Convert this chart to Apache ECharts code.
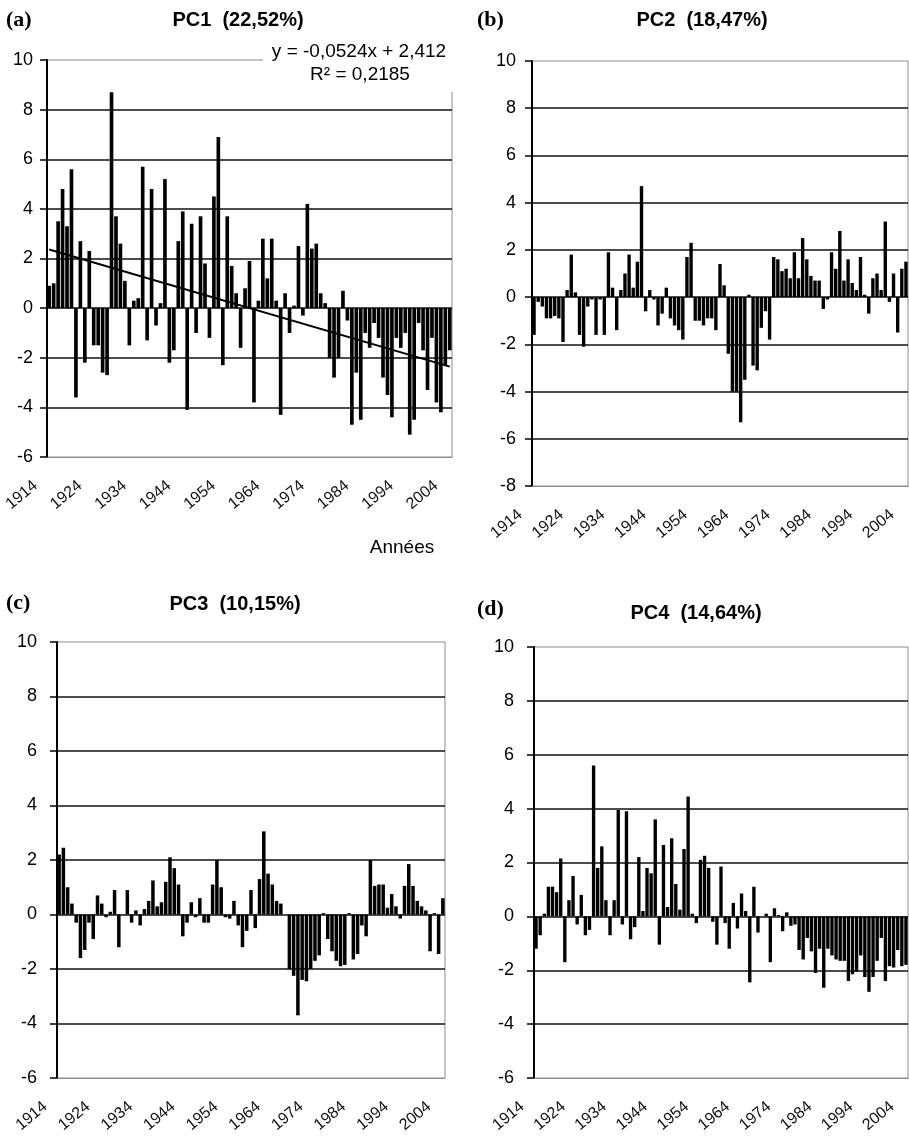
<!DOCTYPE html>
<html><head><meta charset="utf-8">
<script src="https://cdn.jsdelivr.net/npm/echarts@6/dist/echarts.min.js"></script>
<style>html,body{margin:0;padding:0;background:#fff}#c{width:909px;height:1138px}</style>
</head><body><div id="c"></div>
<script>
// ---- data ----
const firstYear = 1914, lastYear = 2004;
const years = [];
for (let y = firstYear; y <= lastYear; y++) years.push(String(y));
const tickYears = ['1914','1924','1934','1944','1954','1964','1974','1984','1994','2004'];

const pc1 = [0.9, 1.0, 3.5, 4.8, 3.3, 5.6, -3.6, 2.7, -2.2, 2.3,
  -1.5, -1.5, -2.6, -2.7, 8.7, 3.7, 2.6, 1.1, -1.5, 0.3,
  0.4, 5.7, -1.3, 4.8, -0.7, 0.2, 5.2, -2.2, -1.7, 2.7,
  3.9, -4.1, 3.4, -1.0, 3.7, 1.8, -1.2, 4.5, 6.9, -2.3,
  3.7, 1.7, 0.6, -1.6, 0.8, 1.9, -3.8, 0.3, 2.8, 1.2,
  2.8, 0.3, -4.3, 0.6, -1.0, 0.1, 2.5, -0.3, 4.2, 2.4,
  2.6, 0.6, 0.2, -2.0, -2.8, -2.0, 0.7, -0.5, -4.7, -2.6,
  -4.5, -1.0, -1.6, -0.6, -1.2, -2.8, -3.5, -4.4, -1.2, -1.6,
  -1.0, -5.1, -4.5, -0.6, -1.7, -3.3, -1.2, -3.8, -4.2, -2.3,
  -1.7];
const pc2 = [-1.6, -0.2, -0.4, -0.9, -0.9, -0.8, -0.9, -1.9, 0.3, 1.8,
  0.2, -1.6, -2.1, -0.4, -0.1, -1.6, -0.1, -1.6, 1.9, 0.4,
  -1.4, 0.3, 1.0, 1.8, 0.4, 1.5, 4.7, -0.6, 0.3, -0.1,
  -1.2, -0.7, 0.4, -0.9, -1.2, -1.4, -1.8, 1.7, 2.3, -1.0,
  -1.0, -1.2, -0.9, -0.9, -1.4, 1.4, 0.5, -2.4, -4.0, -4.0,
  -5.3, -3.5, 0.1, -2.9, -3.1, -1.3, -0.6, -1.8, 1.7, 1.6,
  1.1, 1.2, 0.8, 1.9, 0.8, 2.5, 1.6, 0.9, 0.7, 0.7,
  -0.5, -0.1, 1.9, 1.2, 2.8, 0.7, 1.6, 0.6, 0.3, 1.7,
  0.1, -0.7, 0.8, 1.0, 0.3, 3.2, -0.2, 1.0, -1.5, 1.2,
  1.5];
const pc3 = [2.2, 2.45, 1.0, 0.4, -0.3, -1.6, -1.3, -0.3, -0.9, 0.7,
  0.4, -0.1, 0.1, 0.9, -1.2, 0.0, 0.9, -0.3, 0.15, -0.4,
  0.2, 0.5, 1.25, 0.3, 0.45, 1.2, 2.1, 1.7, 1.1, -0.8,
  -0.3, 0.45, -0.1, 0.6, -0.3, -0.3, 1.1, 2.0, 1.0, -0.1,
  -0.15, 0.5, -0.4, -1.2, -0.6, 0.9, -0.5, 1.3, 3.05, 1.5,
  1.1, 0.5, 0.4, 0.0, -2.0, -2.25, -3.7, -2.4, -2.45, -2.0,
  -1.7, -1.5, 0.05, -0.9, -1.35, -1.7, -1.9, -1.85, 0.05, -1.65,
  -1.45, -0.4, -0.8, 2.0, 1.05, 1.1, 1.1, 0.25, 0.75, 0.3,
  -0.15, 1.05, 1.85, 1.05, 0.5, 0.3, 0.15, -1.35, 0.05, -1.45,
  0.6];
const pc4 = [-1.2, -0.7, 0.1, 1.1, 1.1, 0.9, 2.15, -1.7, 0.6, 1.5,
  -0.3, 0.8, -0.7, -0.5, 5.6, 1.8, 2.6, 0.6, -0.7, 0.6,
  3.95, -0.3, 3.9, -0.85, -0.4, 2.2, 0.2, 1.8, 1.6, 3.6,
  -1.05, 2.65, 0.35, 2.9, 1.2, 0.25, 2.5, 4.45, 0.1, -0.25,
  2.1, 2.25, 1.8, -0.2, -1.05, 1.85, -0.25, -1.2, 0.5, -0.45,
  0.85, 0.2, -2.45, 1.1, -0.6, 0.0, 0.1, -1.7, 0.3, 0.05,
  -0.55, 0.15, -0.35, -0.3, -1.25, -1.6, -0.8, -1.3, -2.1, -1.2,
  -2.65, -1.2, -1.45, -1.6, -1.65, -1.65, -2.4, -2.15, -2.05, -1.45,
  -2.25, -2.8, -2.25, -1.65, -0.8, -2.4, -1.85, -1.9, -1.25, -1.85,
  -1.8];

// regression shown on panel (a): y = -0,0524x + 2,412 (x = 1..n)
const trendSlope = -0.0524, trendIntercept = 2.412;

const titles = ['PC1  (22,52%)', 'PC2  (18,47%)', 'PC3  (10,15%)', 'PC4  (14,64%)'];
const letters = ['(a)', '(b)', '(c)', '(d)'];
const yMins = [-6, -8, -6, -6];

// ---- layout ----
const FONT = '"Liberation Sans", Arial, sans-serif';
const grids = [
  {left: 47, top: 60, width: 405, height: 397},
  {left: 532, top: 61, width: 376, height: 425},
  {left: 57, top: 642, width: 388, height: 436},
  {left: 534, top: 647, width: 374, height: 431}
];
const yLabelMargins = [14, 16, 20, 20];
const seriesData = [pc1, pc2, pc3, pc4];

function txt(x, y, text, size, opts) {
  opts = opts || {};
  const align = opts.align || 'center';
  return {type: 'text', z: 101, x: x, y: y, style: {
    text: text, align: align, verticalAlign: 'middle', textAlign: align, textVerticalAlign: 'middle',
    fontSize: size, fontWeight: opts.bold ? 'bold' : 'normal', fontFamily: opts.family || FONT, fill: '#000'}};
}
const SERIF = '"Liberation Serif", "Times New Roman", serif';

const option = {
  animation: false,
  backgroundColor: '#fff',
  grid: grids.map(g => Object.assign({show: true, borderColor: '#8c8c8c', borderWidth: 1, backgroundColor: 'transparent'}, g)),
  xAxis: grids.map((g, k) => ({
    type: 'category', gridIndex: k, data: years, boundaryGap: true, position: 'bottom',
    axisLine: {onZero: false, lineStyle: {color: '#8c8c8c', width: 1}},
    axisTick: {show: false},
    axisLabel: {
      interval: function (i, v) { return tickYears.indexOf(v) >= 0; },
      rotate: 40, fontSize: 16, fontFamily: FONT, color: '#111', margin: 15,
      padding: [0, 18, 0, 0]
    },
    splitLine: {show: false}
  })),
  yAxis: grids.map((g, k) => ({
    type: 'value', gridIndex: k, min: yMins[k], max: 10, interval: 2,
    axisLine: {show: true, lineStyle: {color: '#000', width: 2}},
    axisTick: {show: true, length: 7, lineStyle: {color: '#000', width: 1.5}},
    axisLabel: {fontSize: 18, color: '#000', margin: yLabelMargins[k], fontFamily: FONT},
    splitLine: {show: true, showMinLine: false, showMaxLine: false, lineStyle: {color: '#111', width: 1.6}}
  })),
  series: seriesData.map((d, k) => {
    const s = {
      type: 'bar', xAxisIndex: k, yAxisIndex: k, data: d, barCategoryGap: '18%',
      itemStyle: {color: '#000'}, silent: true
    };
    if (k === 0) {
      const n = years.length;
      s.markLine = {
        symbol: ['none', 'none'], silent: true, label: {show: false},
        lineStyle: {color: '#000', width: 2, type: 'solid'},
        data: [[
          {coord: [years[0], trendSlope * 1 + trendIntercept]},
          {coord: [years[n - 1], trendSlope * n + trendIntercept]}
        ]]
      };
    }
    return s;
  }),
  graphic: {elements: [
    {type: 'rect', z: 100, shape: {x: 263, y: 38, width: 200, height: 54}, style: {fill: '#fff'}},
    txt(359, 52, 'y = -0,0524x + 2,412', 19),
    txt(360, 75, 'R² = 0,2185', 19),
    txt(402, 548, 'Années', 19),
    txt(238, 20, titles[0], 20, {bold: true}),
    txt(702, 20, titles[1], 20, {bold: true}),
    txt(235, 604, titles[2], 20, {bold: true}),
    txt(696, 613, titles[3], 20, {bold: true}),
    txt(6, 20, letters[0], 22, {bold: true, align: 'left', family: SERIF}),
    txt(477, 20, letters[1], 22, {bold: true, align: 'left', family: SERIF}),
    txt(6, 603, letters[2], 22, {bold: true, align: 'left', family: SERIF}),
    txt(477, 609, letters[3], 22, {bold: true, align: 'left', family: SERIF})
  ]}
};

const chart = echarts.init(document.getElementById('c'), null, {renderer: 'canvas'});
chart.setOption(option);
</script>
</body></html>
